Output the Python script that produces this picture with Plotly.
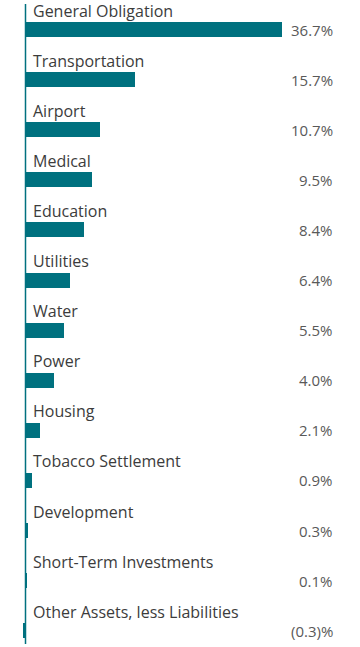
import plotly.graph_objects as go

categories = ["General Obligation", "Transportation", "Airport", "Medical", "Education",
              "Utilities", "Water", "Power", "Housing", "Tobacco Settlement",
              "Development", "Short-Term Investments", "Other Assets, less Liabilities"]
values = [36.7, 15.7, 10.7, 9.5, 8.4, 6.4, 5.5, 4.0, 2.1, 0.9, 0.3, 0.1, -0.3]
value_labels = ["36.7%", "15.7%", "10.7%", "9.5%", "8.4%", "6.4%", "5.5%", "4.0%",
                "2.1%", "0.9%", "0.3%", "0.1%", "(0.3)%"]

TEAL = "#00717F"
FONT = "Open Sans"
W, H = 360, 647
AXIS_PX = 25.5
PX_PER_UNIT = 7.0

fig = go.Figure()
fig.add_trace(go.Bar(
    x=values, y=categories, orientation="h",
    marker=dict(color=TEAL, line=dict(width=0)),
    width=0.3, hoverinfo="skip",
))

annotations = []
for cat, lab in zip(categories, value_labels):
    annotations.append(dict(
        x=0, y=cat, xref="x", yref="y", text=cat, showarrow=False,
        xanchor="left", yanchor="middle", xshift=5, yshift=19,
        font=dict(family=FONT, size=16, color="#3c3c3c"),
    ))
    annotations.append(dict(
        x=335 / W, y=cat, xref="paper", yref="y", text=lab, showarrow=False,
        xanchor="right", yanchor="middle",
        font=dict(family=FONT, size=15, color="#595959"),
    ))

fig.update_layout(
    width=W, height=H,
    margin=dict(l=0, r=0, t=4, b=3),
    paper_bgcolor="white", plot_bgcolor="white",
    showlegend=False,
    bargap=0,
    annotations=annotations,
    xaxis=dict(range=[-AXIS_PX / PX_PER_UNIT, (W - AXIS_PX) / PX_PER_UNIT],
               showgrid=False, zeroline=False, showticklabels=False, ticks="",
               fixedrange=True),
    yaxis=dict(range=[12.265, -0.509], showgrid=False, zeroline=False,
               showticklabels=False, ticks="", fixedrange=True),
    shapes=[dict(type="line", xref="x", yref="paper", x0=0, x1=0, y0=0, y1=1,
                 line=dict(color=TEAL, width=1.5))],
)

fig.write_html("out.html", config={"displayModeBar": False},
               post_script="document.body.style.margin='0';document.body.style.overflow='hidden';")
